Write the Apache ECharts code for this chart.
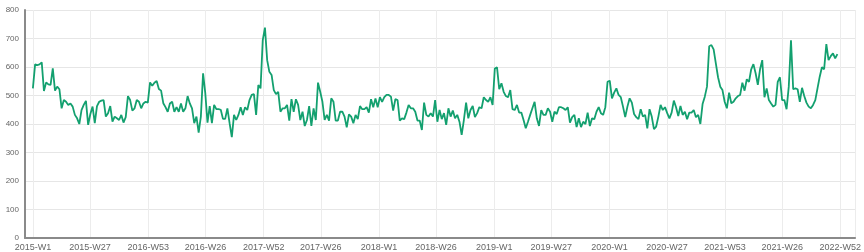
<!DOCTYPE html>
<html><head><meta charset="utf-8">
<script src="https://cdn.jsdelivr.net/npm/echarts@6/dist/echarts.min.js"></script>
<style>html,body{margin:0;padding:0;background:#fff}#c{width:864px;height:252px}</style>
</head><body><div id="c"></div>
<script>
// first week (Thursday of 2015-W1), one point per week
const firstWeek = [2015, 0, 1];

const values2015 = [525,609,607,609,616,516,546,539,537,595,
517,531,522,455,484,478,467,472,461,432,
420,400,449,467,481,397,435,461,403,463,
478,482,484,426,438,463,408,426,420,414,
432,405,424,498,484,447,455,484,478,455,
472,478,475,546,534,545,551,523,517,473,
459,443,472,478,443,459,443,472,443,455,
498,472,455,403,426,370,426,578,508,405,
463,403,467,452,452,450,418,418,455,403,
354,432];

const values2016 = [414,432,459,432,459,449,484,502,505,432,
537,525,694,738,624,583,572,519,505,513,
443,455,455,467,412,487,443,487,467,414,
443,393,414,463,393,455,414,545,513,478,
414,432,412,490,478,412,412,443,443,426,
388,434,426,403,432,417,463,452,452,459,
440,487,459,490,459,494,478,494,502,502,
496,447,487,484,412,420,417,440,467,455,
455,443,412,412,379,475,432,426,438,426,
484,408];

const values2018 = [449,417,438,397,455,426,447,420,432,408,
362,414,475,420,449,463,424,438,459,455,
494,484,478,494,467,595,599,522,543,513,
498,494,519,452,449,467,440,440,414,385,
408,432,455,478,420,393,449,432,432,455,
443,408,443,435,459,459,455,449,459,405,
424,432,389,420,389,408,400,440,393,420,
417,443,459,438,432,459,548,552,490,510,
525,502,494,461,424,461,490,475,435,424,
417,452];

const values2020 = [426,432,385,452,426,382,391,426,467,449,
459,438,420,440,482,459,428,463,432,443,
417,440,440,449,424,432,400,470,496,531,
673,677,662,613,564,531,519,478,455,510,
473,478,490,498,502,545,517,557,548,592,
610,578,537,592,624,494,525,484,472,461,
467,548,564,484,484,452,531,694,522,525,
522,478,527,498,475,461,455,467,484,525,
566,599,592,680,624,638,648,630,645];

const tickDates = ['2015-01-01','2015-07-01','2016-01-01','2016-07-01','2017-01-01','2017-07-01','2018-01-01','2018-07-01','2019-01-01','2019-07-01','2020-01-01','2020-07-01','2021-01-01','2021-07-01','2022-01-01'];
const tickLabels = ['2015-W1','2015-W27','2016-W53','2016-W26','2017-W52','2017-W26','2018-W1','2018-W26','2019-W1','2019-W27','2020-W1','2020-W27','2021-W53','2021-W26','2022-W52'];

const yTicks = [0,100,200,300,400,500,600,700,800];

const values = values2015.concat(values2016, values2018, values2020);
const seriesData = values.map((v, i) => [new Date(firstWeek[0], firstWeek[1], firstWeek[2] + 7 * i).getTime(), v]);

function keyOf(t) {
  const d = new Date(t);
  const m = d.getMonth() + 1, dd = d.getDate();
  return d.getFullYear() + '-' + (m < 10 ? '0' : '') + m + '-' + (dd < 10 ? '0' : '') + dd;
}

const chart = echarts.init(document.getElementById('c'), null, {renderer: 'canvas'});
chart.setOption({
  animation: false,
  grid: {left: 25, right: 7, top: 10, bottom: 13, containLabel: false},
  xAxis: {
    type: 'time',
    min: new Date(2014, 11, 7).getTime(),
    max: new Date(2022, 1, 17).getTime(),
    splitNumber: 14,
    minInterval: 180 * 86400000,
    maxInterval: 185 * 86400000,
    axisLine: {show: true, lineStyle: {color: '#8a8a8a', width: 2}},
    axisTick: {show: false},
    axisLabel: {
      color: '#666', fontSize: 9, margin: 5, hideOverlap: false,
      formatter: function (v) { const k = tickDates.indexOf(keyOf(v)); return k >= 0 ? tickLabels[k] : ''; }
    },
    splitLine: {show: true, lineStyle: {color: '#ececec', width: 1}}
  },
  yAxis: {
    type: 'value',
    min: yTicks[0], max: yTicks[yTicks.length - 1], interval: 100,
    axisLine: {show: true, lineStyle: {color: '#8a8a8a', width: 2}},
    axisTick: {show: false},
    axisLabel: {color: '#666', fontSize: 8, margin: 6},
    splitLine: {show: true, lineStyle: {color: '#e6e6e6', width: 1}}
  },
  series: [{
    type: 'line',
    data: seriesData,
    showSymbol: false,
    lineStyle: {color: '#13a06f', width: 1.8},
    itemStyle: {color: '#13a06f'}
  }]
});
</script>
</body></html>
